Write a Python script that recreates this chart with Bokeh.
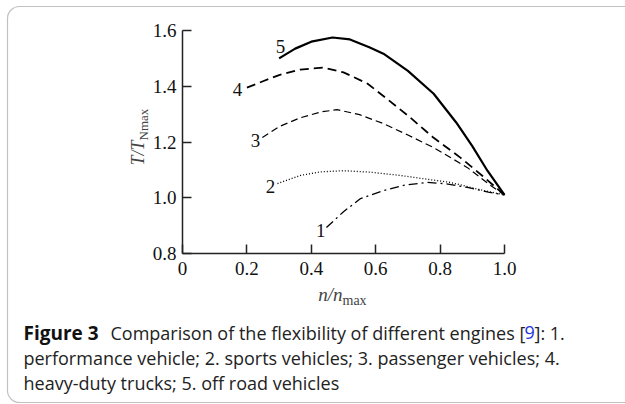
import math
from bokeh.plotting import figure
from bokeh.models import Range1d, FixedTicker, Label, BoxAnnotation, LinearAxis
from bokeh.embed import file_html
from bokeh.resources import INLINE

# ---- data ----
x5 = [0.30, 0.35, 0.40, 0.466, 0.52, 0.58, 0.624, 0.70, 0.78, 0.85, 0.90, 0.947, 1.0]
y5 = [1.500, 1.535, 1.560, 1.575, 1.568, 1.540, 1.517, 1.455, 1.373, 1.270, 1.185, 1.097, 1.010]

x4 = [0.20, 0.25, 0.30, 0.366, 0.438, 0.50, 0.575, 0.64, 0.708, 0.78, 0.863, 0.93, 1.0]
y4 = [1.395, 1.418, 1.440, 1.460, 1.467, 1.450, 1.409, 1.350, 1.287, 1.215, 1.144, 1.080, 1.010]

x3 = [0.248, 0.30, 0.366, 0.43, 0.48, 0.55, 0.624, 0.70, 0.78, 0.885, 0.95, 1.0]
y3 = [1.216, 1.255, 1.287, 1.308, 1.316, 1.298, 1.266, 1.225, 1.180, 1.108, 1.050, 1.010]

x2 = [0.295, 0.366, 0.43, 0.50, 0.58, 0.677, 0.75, 0.832, 0.92, 1.0]
y2 = [1.051, 1.080, 1.093, 1.097, 1.092, 1.080, 1.068, 1.055, 1.030, 1.010]

x1 = [0.447, 0.50, 0.553, 0.624, 0.69, 0.76, 0.82, 0.885, 0.95, 1.0]
y1 = [0.893, 0.950, 0.997, 1.026, 1.045, 1.055, 1.050, 1.037, 1.020, 1.010]

curve_labels = ["1", "2", "3", "4", "5"]
curve_label_x = [0.429, 0.273, 0.227, 0.171, 0.304]
curve_label_y = [0.882, 1.040, 1.205, 1.388, 1.541]

x_ticks = [0, 0.2, 0.4, 0.6, 0.8, 1.0]
x_tick_labels = ["0", "0.2", "0.4", "0.6", "0.8", "1.0"]
y_ticks = [0.8, 1.0, 1.2, 1.4, 1.6]
y_tick_labels = ["0.8", "1.0", "1.2", "1.4", "1.6"]

caption_line1_bold = "Figure 3"
caption_line1_a = "Comparison of the flexibility of different engines ["
caption_line1_ref = "9"
caption_line1_b = "]: 1."
caption_line2 = "performance vehicle; 2. sports vehicles; 3. passenger vehicles; 4."
caption_line3 = "heavy-duty trucks; 5. off road vehicles"

# ---- layout: the frame covers the whole canvas; data box maps to pixels ----
W, H = 625, 404
PX0, PX1 = 182, 504   # pixel x of n/nmax = 0 and 1.0
PY08, PY16 = 253, 30  # pixel y of T/T = 0.8 and 1.6
sx = (PX1 - PX0) / 1.0
sy = (PY08 - PY16) / 0.8

def dx(px):
    return (px - PX0) / sx

def dy(py):
    return 0.8 + (PY08 - py) / sy

p = figure(width=W, height=H, output_backend="svg", toolbar_location=None,
           x_range=Range1d(dx(0), dx(W)), y_range=Range1d(dy(H), dy(0)),
           x_axis_location=None, y_axis_location=None,
           min_border=0, min_border_left=0, min_border_right=0,
           min_border_top=0, min_border_bottom=0)
p.outline_line_color = None
p.grid.visible = False
p.background_fill_color = "white"
p.border_fill_color = "white"

serif = "Liberation Serif"
xaxis = LinearAxis(fixed_location=0.8, bounds=(0, 1.0))
yaxis = LinearAxis(fixed_location=0.0, bounds=(0.8, 1.6))
p.add_layout(xaxis, "below")
p.add_layout(yaxis, "left")
for ax, ticks, labels in ((xaxis, x_ticks, x_tick_labels), (yaxis, y_ticks, y_tick_labels)):
    ax.ticker = FixedTicker(ticks=ticks)
    ax.major_label_overrides = {t: l for t, l in zip(ticks, labels)}
    ax.axis_line_color = "#222222"
    ax.axis_line_width = 1.5
    ax.major_tick_line_color = "#222222"
    ax.major_tick_line_width = 1.5
    ax.major_tick_in = 9
    ax.major_tick_out = 0
    ax.minor_tick_line_color = None
    ax.major_label_text_font = serif
    ax.major_label_text_font_size = "19px"
    ax.major_label_text_color = "#111111"
xaxis.major_label_standoff = 8
yaxis.major_label_standoff = 6

# ---- curves ----
p.line(x5, y5, line_color="black", line_width=2.2)
p.line(x4, y4, line_color="black", line_width=1.8, line_dash="9 5")
p.line(x3, y3, line_color="black", line_width=1.2, line_dash="7 4")
p.line(x2, y2, line_color="black", line_width=1.3, line_dash="1 2")
p.line(x1, y1, line_color="black", line_width=1.3, line_dash="9 4 2 4")

for t, lx, ly in zip(curve_labels, curve_label_x, curve_label_y):
    p.add_layout(Label(x=lx, y=ly, text=t, text_font=serif, text_font_size="19px",
                       text_align="center", text_baseline="middle", text_color="#111111"))

# axis titles
p.add_layout(Label(x=dx(342), y=dy(294), text="n/n", text_font=serif, text_font_style="italic",
                   text_font_size="19px", text_align="right", text_baseline="middle"))
p.add_layout(Label(x=dx(342), y=dy(300), text="max", text_font=serif,
                   text_font_size="14px", text_align="left", text_baseline="middle"))
p.add_layout(Label(x=dx(137), y=dy(140), text="T/T", text_font=serif, text_font_style="italic",
                   text_font_size="18px", text_align="right", text_baseline="middle", angle=math.pi / 2))
p.add_layout(Label(x=dx(143), y=dy(140), text="Nmax", text_font=serif,
                   text_font_size="13px", text_align="left", text_baseline="middle", angle=math.pi / 2))

# caption
sans = "Open Sans"
cap_size = "18px"
p.add_layout(Label(x=dx(23), y=dy(332), text=caption_line1_bold, text_font=sans, text_font_style="bold",
                   text_font_size="19px", text_baseline="alphabetic", text_color="#111111"))
p.add_layout(Label(x=dx(110), y=dy(332), text=caption_line1_a, text_font=sans,
                   text_font_size=cap_size, text_baseline="alphabetic", text_color="#222222"))
p.add_layout(Label(x=dx(524), y=dy(332), text=caption_line1_ref, text_font=sans,
                   text_font_size=cap_size, text_baseline="alphabetic", text_color="#2233dd"))
p.add_layout(Label(x=dx(534), y=dy(332), text=caption_line1_b, text_font=sans,
                   text_font_size=cap_size, text_baseline="alphabetic", text_color="#222222"))
p.add_layout(Label(x=dx(23), y=dy(357), text=caption_line2, text_font=sans,
                   text_font_size=cap_size, text_baseline="alphabetic", text_color="#222222"))
p.add_layout(Label(x=dx(23), y=dy(382), text=caption_line3, text_font=sans,
                   text_font_size=cap_size, text_baseline="alphabetic", text_color="#222222"))

# rounded frame around the figure panel
p.add_layout(BoxAnnotation(left=dx(7), right=dx(660), top=dy(6), bottom=dy(402),
                           fill_alpha=0, line_color="#333333", line_width=1.2,
                           border_radius=12, level="overlay"))

open("out.html", "w").write(file_html(p, INLINE))
